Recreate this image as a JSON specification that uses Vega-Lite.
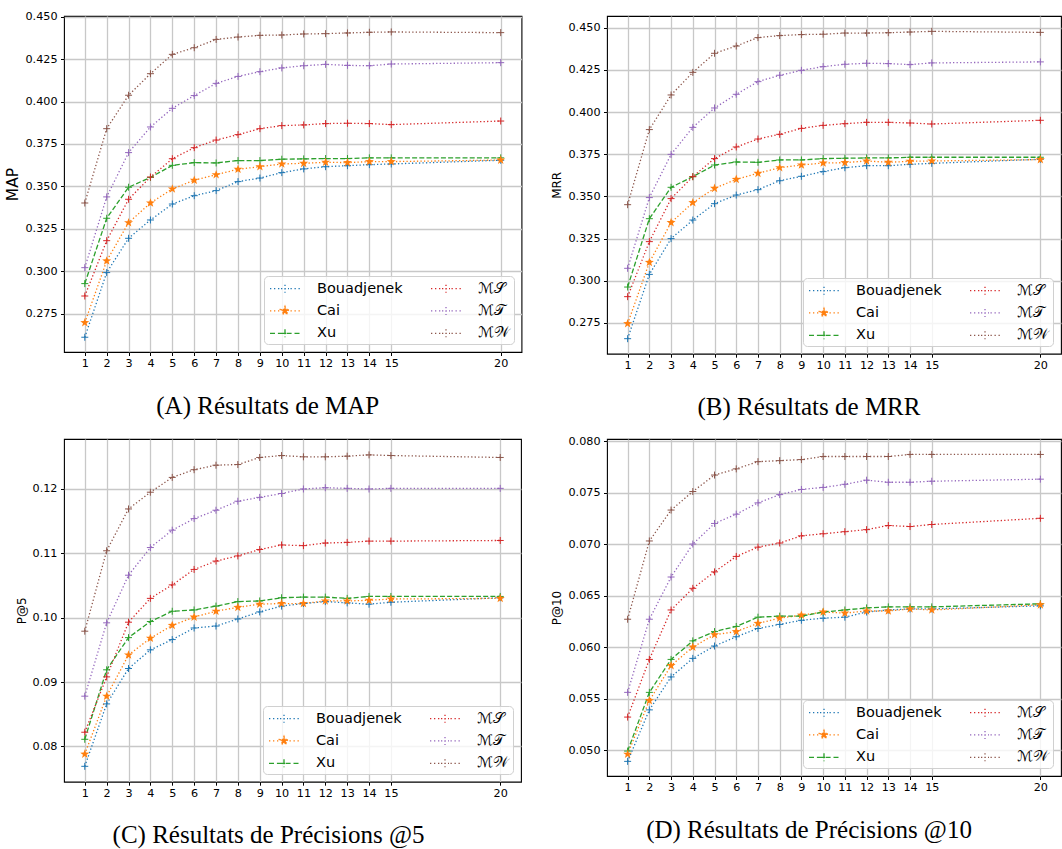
{
  "$schema": "https://vega.github.io/schema/vega-lite/v6.json",
  "padding": {"left": 5, "top": 10, "right": 0, "bottom": 0},
  "background": "#ffffff",
  "datasets": {
    "A": [
      {"x":1,"Bouadjenek":0.2611,"Cai":0.2697,"Xu":0.2927,"MS":0.2854,"MT":0.3021,"MW":0.3402},
      {"x":2,"Bouadjenek":0.2992,"Cai":0.3061,"Xu":0.3312,"MS":0.3180,"MT":0.3438,"MW":0.3840},
      {"x":3,"Bouadjenek":0.3194,"Cai":0.3286,"Xu":0.3495,"MS":0.3424,"MT":0.3699,"MW":0.4037},
      {"x":4,"Bouadjenek":0.3302,"Cai":0.3402,"Xu":0.3553,"MS":0.3555,"MT":0.3850,"MW":0.4164},
      {"x":5,"Bouadjenek":0.3396,"Cai":0.3485,"Xu":0.3624,"MS":0.3663,"MT":0.3960,"MW":0.4278},
      {"x":6,"Bouadjenek":0.3445,"Cai":0.3536,"Xu":0.3640,"MS":0.3728,"MT":0.4035,"MW":0.4317},
      {"x":7,"Bouadjenek":0.3475,"Cai":0.3569,"Xu":0.3638,"MS":0.3773,"MT":0.4107,"MW":0.4366},
      {"x":8,"Bouadjenek":0.3528,"Cai":0.3601,"Xu":0.3652,"MS":0.3805,"MT":0.4148,"MW":0.4380},
      {"x":9,"Bouadjenek":0.3549,"Cai":0.3616,"Xu":0.3652,"MS":0.3840,"MT":0.4176,"MW":0.4390},
      {"x":10,"Bouadjenek":0.3581,"Cai":0.3632,"Xu":0.3660,"MS":0.3858,"MT":0.4198,"MW":0.4392},
      {"x":11,"Bouadjenek":0.3603,"Cai":0.3636,"Xu":0.3662,"MS":0.3862,"MT":0.4211,"MW":0.4398},
      {"x":12,"Bouadjenek":0.3616,"Cai":0.3642,"Xu":0.3664,"MS":0.3870,"MT":0.4219,"MW":0.4400},
      {"x":13,"Bouadjenek":0.3622,"Cai":0.3640,"Xu":0.3664,"MS":0.3872,"MT":0.4213,"MW":0.4404},
      {"x":14,"Bouadjenek":0.3628,"Cai":0.3646,"Xu":0.3668,"MS":0.3870,"MT":0.4211,"MW":0.4408},
      {"x":15,"Bouadjenek":0.3632,"Cai":0.3646,"Xu":0.3668,"MS":0.3864,"MT":0.4221,"MW":0.4410},
      {"x":20,"Bouadjenek":0.3654,"Cai":0.3655,"Xu":0.3668,"MS":0.3885,"MT":0.4229,"MW":0.4406}
    ],
    "B": [
      {"x":1,"Bouadjenek":0.2657,"Cai":0.2746,"Xu":0.2963,"MS":0.2906,"MT":0.3074,"MW":0.3451},
      {"x":2,"Bouadjenek":0.3038,"Cai":0.3109,"Xu":0.3368,"MS":0.3232,"MT":0.3493,"MW":0.3896},
      {"x":3,"Bouadjenek":0.3250,"Cai":0.3345,"Xu":0.3554,"MS":0.3487,"MT":0.3749,"MW":0.4101},
      {"x":4,"Bouadjenek":0.3360,"Cai":0.3463,"Xu":0.3617,"MS":0.3617,"MT":0.3909,"MW":0.4235},
      {"x":5,"Bouadjenek":0.3457,"Cai":0.3548,"Xu":0.3686,"MS":0.3724,"MT":0.4024,"MW":0.4348},
      {"x":6,"Bouadjenek":0.3508,"Cai":0.3601,"Xu":0.3704,"MS":0.3793,"MT":0.4105,"MW":0.4391},
      {"x":7,"Bouadjenek":0.3540,"Cai":0.3637,"Xu":0.3702,"MS":0.3840,"MT":0.4180,"MW":0.4441},
      {"x":8,"Bouadjenek":0.3593,"Cai":0.3670,"Xu":0.3716,"MS":0.3868,"MT":0.4218,"MW":0.4453},
      {"x":9,"Bouadjenek":0.3619,"Cai":0.3686,"Xu":0.3716,"MS":0.3903,"MT":0.4247,"MW":0.4459},
      {"x":10,"Bouadjenek":0.3647,"Cai":0.3698,"Xu":0.3724,"MS":0.3921,"MT":0.4269,"MW":0.4461},
      {"x":11,"Bouadjenek":0.3670,"Cai":0.3700,"Xu":0.3726,"MS":0.3931,"MT":0.4283,"MW":0.4468},
      {"x":12,"Bouadjenek":0.3682,"Cai":0.3710,"Xu":0.3728,"MS":0.3939,"MT":0.4289,"MW":0.4468},
      {"x":13,"Bouadjenek":0.3682,"Cai":0.3702,"Xu":0.3728,"MS":0.3939,"MT":0.4287,"MW":0.4470},
      {"x":14,"Bouadjenek":0.3690,"Cai":0.3708,"Xu":0.3732,"MS":0.3935,"MT":0.4281,"MW":0.4474},
      {"x":15,"Bouadjenek":0.3696,"Cai":0.3710,"Xu":0.3732,"MS":0.3929,"MT":0.4291,"MW":0.4478},
      {"x":20,"Bouadjenek":0.3720,"Cai":0.3718,"Xu":0.3732,"MS":0.3951,"MT":0.4297,"MW":0.4472}
    ],
    "C": [
      {"x":1,"Bouadjenek":0.0769,"Cai":0.0788,"Xu":0.0811,"MS":0.0822,"MT":0.0878,"MW":0.0979},
      {"x":2,"Bouadjenek":0.0866,"Cai":0.0878,"Xu":0.0919,"MS":0.0908,"MT":0.0992,"MW":0.1104},
      {"x":3,"Bouadjenek":0.0921,"Cai":0.0942,"Xu":0.0969,"MS":0.0993,"MT":0.1066,"MW":0.1169},
      {"x":4,"Bouadjenek":0.0950,"Cai":0.0968,"Xu":0.0994,"MS":0.1030,"MT":0.1109,"MW":0.1195},
      {"x":5,"Bouadjenek":0.0966,"Cai":0.0988,"Xu":0.1010,"MS":0.1051,"MT":0.1136,"MW":0.1218},
      {"x":6,"Bouadjenek":0.0984,"Cai":0.1001,"Xu":0.1012,"MS":0.1075,"MT":0.1154,"MW":0.1230},
      {"x":7,"Bouadjenek":0.0987,"Cai":0.1010,"Xu":0.1018,"MS":0.1088,"MT":0.1167,"MW":0.1237},
      {"x":8,"Bouadjenek":0.0998,"Cai":0.1016,"Xu":0.1025,"MS":0.1096,"MT":0.1181,"MW":0.1238},
      {"x":9,"Bouadjenek":0.1009,"Cai":0.1021,"Xu":0.1026,"MS":0.1106,"MT":0.1187,"MW":0.1249},
      {"x":10,"Bouadjenek":0.1018,"Cai":0.1022,"Xu":0.1031,"MS":0.1113,"MT":0.1193,"MW":0.1252},
      {"x":11,"Bouadjenek":0.1022,"Cai":0.1022,"Xu":0.1032,"MS":0.1112,"MT":0.1200,"MW":0.1250},
      {"x":12,"Bouadjenek":0.1025,"Cai":0.1026,"Xu":0.1032,"MS":0.1116,"MT":0.1202,"MW":0.1250},
      {"x":13,"Bouadjenek":0.1023,"Cai":0.1026,"Xu":0.1030,"MS":0.1117,"MT":0.1201,"MW":0.1251},
      {"x":14,"Bouadjenek":0.1021,"Cai":0.1027,"Xu":0.1033,"MS":0.1119,"MT":0.1200,"MW":0.1253},
      {"x":15,"Bouadjenek":0.1024,"Cai":0.1029,"Xu":0.1033,"MS":0.1119,"MT":0.1201,"MW":0.1252},
      {"x":20,"Bouadjenek":0.1031,"Cai":0.1030,"Xu":0.1033,"MS":0.1120,"MT":0.1201,"MW":0.1249}
    ],
    "D": [
      {"x":1,"Bouadjenek":0.0489,"Cai":0.0496,"Xu":0.0499,"MS":0.0532,"MT":0.0556,"MW":0.0627},
      {"x":2,"Bouadjenek":0.0539,"Cai":0.0548,"Xu":0.0556,"MS":0.0588,"MT":0.0627,"MW":0.0703},
      {"x":3,"Bouadjenek":0.0571,"Cai":0.0582,"Xu":0.0588,"MS":0.0636,"MT":0.0668,"MW":0.0733},
      {"x":4,"Bouadjenek":0.0589,"Cai":0.0600,"Xu":0.0606,"MS":0.0657,"MT":0.0700,"MW":0.0751},
      {"x":5,"Bouadjenek":0.0601,"Cai":0.0612,"Xu":0.0615,"MS":0.0673,"MT":0.0720,"MW":0.0767},
      {"x":6,"Bouadjenek":0.0610,"Cai":0.0615,"Xu":0.0620,"MS":0.0688,"MT":0.0729,"MW":0.0773},
      {"x":7,"Bouadjenek":0.0618,"Cai":0.0623,"Xu":0.0629,"MS":0.0697,"MT":0.0740,"MW":0.0780},
      {"x":8,"Bouadjenek":0.0622,"Cai":0.0628,"Xu":0.0630,"MS":0.0701,"MT":0.0748,"MW":0.0781},
      {"x":9,"Bouadjenek":0.0626,"Cai":0.0631,"Xu":0.0630,"MS":0.0708,"MT":0.0753,"MW":0.0782},
      {"x":10,"Bouadjenek":0.0628,"Cai":0.0634,"Xu":0.0634,"MS":0.0710,"MT":0.0755,"MW":0.0785},
      {"x":11,"Bouadjenek":0.0629,"Cai":0.0633,"Xu":0.0636,"MS":0.0712,"MT":0.0758,"MW":0.0785},
      {"x":12,"Bouadjenek":0.0634,"Cai":0.0635,"Xu":0.0638,"MS":0.0714,"MT":0.0762,"MW":0.0785},
      {"x":13,"Bouadjenek":0.0636,"Cai":0.0635,"Xu":0.0639,"MS":0.0718,"MT":0.0760,"MW":0.0785},
      {"x":14,"Bouadjenek":0.0637,"Cai":0.0637,"Xu":0.0639,"MS":0.0717,"MT":0.0760,"MW":0.0787},
      {"x":15,"Bouadjenek":0.0637,"Cai":0.0636,"Xu":0.0639,"MS":0.0719,"MT":0.0761,"MW":0.0787},
      {"x":20,"Bouadjenek":0.0640,"Cai":0.0641,"Xu":0.0642,"MS":0.0725,"MT":0.0763,"MW":0.0787}
    ]
  },
  "columns": 2,
  "spacing": {"row": 13, "column": 27},
  "resolve": {"scale": {"color": "independent", "strokeDash": "independent"}, "legend": {"color": "independent"}},
  "concat": [
    {
      "width": 457.5, "height": 336,
      "data": {"name": "A"},
      "transform": [{"fold": ["Bouadjenek","Cai","Xu","MS","MT","MW"], "as": ["s","v"]}],
      "title": {"text": "(A) Résultats de MAP", "dx": -25},
      "encoding": {
        "x": {"field": "x", "type": "quantitative", "scale": {"domain": [0.05, 20.95], "nice": false, "zero": false}, "axis": {"values": [1,2,3,4,5,6,7,8,9,10,11,12,13,14,15,20], "title": null}},
        "y": {"field": "v", "type": "quantitative", "scale": {"domain": [0.2524, 0.4504], "nice": false, "zero": false}, "axis": {"values": [0.275,0.3,0.325,0.35,0.375,0.4,0.425,0.45], "format": ".3f", "title": "MAP", "titleFontSize": 15.5}},
        "color": {"field": "s", "type": "nominal", "scale": {"domain": ["Bouadjenek","Cai","Xu","MS","MT","MW"], "range": ["#1f77b4","#ff7f0e","#2ca02c","#d62728","#9467bd","#8c564b"]},
          "legend": {"labelExpr": "datum.value === 'MS' ? 'ℳ𝒮' : datum.value === 'MT' ? 'ℳ𝒯' : datum.value === 'MW' ? 'ℳ𝒲' : datum.value",
            "encode": {"symbols": {"update": {
              "shape": {"signal": "datum.value === 'Xu' ? 'M-1.875,0H-1.1875M-0.8875,0H-0.2M0.2,0H0.8875M1.1875,0H1.875M-0.5,0H0.5M0,-0.5V0.5' : datum.value === 'Cai' ? 'M-1.875,0H-1.6875M-1.375,0H-1.1875M-0.875,0H-0.6875M0.6875,0H0.875M1.1875,0H1.375M1.6875,0H1.875M0,-0.5625L0.132,-0.182L0.535,-0.174L0.214,0.07L0.331,0.455L0,0.225L-0.331,0.455L-0.214,0.07L-0.535,-0.174L-0.132,-0.182Z' : 'M-1.875,0H-1.6875M-1.375,0H-1.1875M-0.875,0H-0.6875M0.6875,0H0.875M1.1875,0H1.375M1.6875,0H1.875M-0.5,0H0.5M0,-0.5V0.5'"},
              "stroke": {"signal": "datum.value === 'Bouadjenek' ? '#1f77b4' : datum.value === 'Cai' ? '#ff7f0e' : datum.value === 'Xu' ? '#2ca02c' : datum.value === 'MS' ? '#d62728' : datum.value === 'MT' ? '#9467bd' : '#8c564b'"},
              "fill": {"signal": "datum.value === 'Cai' ? '#ff7f0e' : 'transparent'"},
              "strokeWidth": {"value": 1.3},
              "opacity": {"value": 1}
            }}}}}
      },
      "layer": [
        {"mark": {"type": "line", "strokeWidth": 1.3},
         "encoding": {"strokeDash": {"field": "s", "type": "nominal", "scale": {"domain": ["Bouadjenek","Cai","Xu","MS","MT","MW"], "range": [[1.3,2.2],[1.3,2.2],[5,2.2],[1.3,2.2],[1.3,2.2],[1.3,2.2]]}, "legend": null}}},
        {"transform": [{"filter": "datum.s !== 'Cai'"}],
         "mark": {"type": "point", "shape": "M-1,0H1M0,-1V1", "size": 49, "strokeWidth": 1, "filled": false, "opacity": 1}},
        {"transform": [{"filter": "datum.s === 'Cai'"}],
         "mark": {"type": "point", "shape": "M0,-1L0.235,-0.324L0.951,-0.309L0.38,0.124L0.588,0.809L0,0.4L-0.588,0.809L-0.38,0.124L-0.951,-0.309L-0.235,-0.324Z", "size": 90, "filled": true, "opacity": 1}}
      ]
    },
    {
      "width": 454, "height": 337.7,
      "data": {"name": "B"},
      "transform": [{"fold": ["Bouadjenek","Cai","Xu","MS","MT","MW"], "as": ["s","v"]}],
      "title": {"text": "(B) Résultats de MRR", "dx": -25},
      "encoding": {
        "x": {"field": "x", "type": "quantitative", "scale": {"domain": [0.05, 20.95], "nice": false, "zero": false}, "axis": {"values": [1,2,3,4,5,6,7,8,9,10,11,12,13,14,15,20], "title": null}},
        "y": {"field": "v", "type": "quantitative", "scale": {"domain": [0.2568, 0.4569], "nice": false, "zero": false}, "axis": {"values": [0.275,0.3,0.325,0.35,0.375,0.4,0.425,0.45], "format": ".3f", "title": "MRR"}},
        "color": {"field": "s", "type": "nominal", "scale": {"domain": ["Bouadjenek","Cai","Xu","MS","MT","MW"], "range": ["#1f77b4","#ff7f0e","#2ca02c","#d62728","#9467bd","#8c564b"]},
          "legend": {"labelExpr": "datum.value === 'MS' ? 'ℳ𝒮' : datum.value === 'MT' ? 'ℳ𝒯' : datum.value === 'MW' ? 'ℳ𝒲' : datum.value",
            "encode": {"symbols": {"update": {
              "shape": {"signal": "datum.value === 'Xu' ? 'M-1.875,0H-1.1875M-0.8875,0H-0.2M0.2,0H0.8875M1.1875,0H1.875M-0.5,0H0.5M0,-0.5V0.5' : datum.value === 'Cai' ? 'M-1.875,0H-1.6875M-1.375,0H-1.1875M-0.875,0H-0.6875M0.6875,0H0.875M1.1875,0H1.375M1.6875,0H1.875M0,-0.5625L0.132,-0.182L0.535,-0.174L0.214,0.07L0.331,0.455L0,0.225L-0.331,0.455L-0.214,0.07L-0.535,-0.174L-0.132,-0.182Z' : 'M-1.875,0H-1.6875M-1.375,0H-1.1875M-0.875,0H-0.6875M0.6875,0H0.875M1.1875,0H1.375M1.6875,0H1.875M-0.5,0H0.5M0,-0.5V0.5'"},
              "stroke": {"signal": "datum.value === 'Bouadjenek' ? '#1f77b4' : datum.value === 'Cai' ? '#ff7f0e' : datum.value === 'Xu' ? '#2ca02c' : datum.value === 'MS' ? '#d62728' : datum.value === 'MT' ? '#9467bd' : '#8c564b'"},
              "fill": {"signal": "datum.value === 'Cai' ? '#ff7f0e' : 'transparent'"},
              "strokeWidth": {"value": 1.3},
              "opacity": {"value": 1}
            }}}}}
      },
      "layer": [
        {"mark": {"type": "line", "strokeWidth": 1.3},
         "encoding": {"strokeDash": {"field": "s", "type": "nominal", "scale": {"domain": ["Bouadjenek","Cai","Xu","MS","MT","MW"], "range": [[1.3,2.2],[1.3,2.2],[5,2.2],[1.3,2.2],[1.3,2.2],[1.3,2.2]]}, "legend": null}}},
        {"transform": [{"filter": "datum.s !== 'Cai'"}],
         "mark": {"type": "point", "shape": "M-1,0H1M0,-1V1", "size": 49, "strokeWidth": 1, "filled": false, "opacity": 1}},
        {"transform": [{"filter": "datum.s === 'Cai'"}],
         "mark": {"type": "point", "shape": "M0,-1L0.235,-0.324L0.951,-0.309L0.38,0.124L0.588,0.809L0,0.4L-0.588,0.809L-0.38,0.124L-0.951,-0.309L-0.235,-0.324Z", "size": 90, "filled": true, "opacity": 1}}
      ]
    },
    {
      "width": 457, "height": 342.7,
      "data": {"name": "C"},
      "transform": [{"fold": ["Bouadjenek","Cai","Xu","MS","MT","MW"], "as": ["s","v"]}],
      "title": {"text": "(C) Résultats de Précisions @5", "dx": -24},
      "encoding": {
        "x": {"field": "x", "type": "quantitative", "scale": {"domain": [0.05, 20.95], "nice": false, "zero": false}, "axis": {"values": [1,2,3,4,5,6,7,8,9,10,11,12,13,14,15,20], "title": null}},
        "y": {"field": "v", "type": "quantitative", "scale": {"domain": [0.07451, 0.12777], "nice": false, "zero": false}, "axis": {"values": [0.08,0.09,0.1,0.11,0.12], "format": ".2f", "title": "P@5"}},
        "color": {"field": "s", "type": "nominal", "scale": {"domain": ["Bouadjenek","Cai","Xu","MS","MT","MW"], "range": ["#1f77b4","#ff7f0e","#2ca02c","#d62728","#9467bd","#8c564b"]},
          "legend": {"labelExpr": "datum.value === 'MS' ? 'ℳ𝒮' : datum.value === 'MT' ? 'ℳ𝒯' : datum.value === 'MW' ? 'ℳ𝒲' : datum.value",
            "encode": {"symbols": {"update": {
              "shape": {"signal": "datum.value === 'Xu' ? 'M-1.875,0H-1.1875M-0.8875,0H-0.2M0.2,0H0.8875M1.1875,0H1.875M-0.5,0H0.5M0,-0.5V0.5' : datum.value === 'Cai' ? 'M-1.875,0H-1.6875M-1.375,0H-1.1875M-0.875,0H-0.6875M0.6875,0H0.875M1.1875,0H1.375M1.6875,0H1.875M0,-0.5625L0.132,-0.182L0.535,-0.174L0.214,0.07L0.331,0.455L0,0.225L-0.331,0.455L-0.214,0.07L-0.535,-0.174L-0.132,-0.182Z' : 'M-1.875,0H-1.6875M-1.375,0H-1.1875M-0.875,0H-0.6875M0.6875,0H0.875M1.1875,0H1.375M1.6875,0H1.875M-0.5,0H0.5M0,-0.5V0.5'"},
              "stroke": {"signal": "datum.value === 'Bouadjenek' ? '#1f77b4' : datum.value === 'Cai' ? '#ff7f0e' : datum.value === 'Xu' ? '#2ca02c' : datum.value === 'MS' ? '#d62728' : datum.value === 'MT' ? '#9467bd' : '#8c564b'"},
              "fill": {"signal": "datum.value === 'Cai' ? '#ff7f0e' : 'transparent'"},
              "strokeWidth": {"value": 1.3},
              "opacity": {"value": 1}
            }}}}}
      },
      "layer": [
        {"mark": {"type": "line", "strokeWidth": 1.3},
         "encoding": {"strokeDash": {"field": "s", "type": "nominal", "scale": {"domain": ["Bouadjenek","Cai","Xu","MS","MT","MW"], "range": [[1.3,2.2],[1.3,2.2],[5,2.2],[1.3,2.2],[1.3,2.2],[1.3,2.2]]}, "legend": null}}},
        {"transform": [{"filter": "datum.s !== 'Cai'"}],
         "mark": {"type": "point", "shape": "M-1,0H1M0,-1V1", "size": 49, "strokeWidth": 1, "filled": false, "opacity": 1}},
        {"transform": [{"filter": "datum.s === 'Cai'"}],
         "mark": {"type": "point", "shape": "M0,-1L0.235,-0.324L0.951,-0.309L0.38,0.124L0.588,0.809L0,0.4L-0.588,0.809L-0.38,0.124L-0.951,-0.309L-0.235,-0.324Z", "size": 90, "filled": true, "opacity": 1}}
      ]
    },
    {
      "width": 454, "height": 337,
      "data": {"name": "D"},
      "transform": [{"fold": ["Bouadjenek","Cai","Xu","MS","MT","MW"], "as": ["s","v"]}],
      "title": {"text": "(D) Résultats de Précisions @10", "dx": -25},
      "encoding": {
        "x": {"field": "x", "type": "quantitative", "scale": {"domain": [0.05, 20.95], "nice": false, "zero": false}, "axis": {"values": [1,2,3,4,5,6,7,8,9,10,11,12,13,14,15,20], "title": null}},
        "y": {"field": "v", "type": "quantitative", "scale": {"domain": [0.04748, 0.0802], "nice": false, "zero": false}, "axis": {"values": [0.05,0.055,0.06,0.065,0.07,0.075,0.08], "format": ".3f", "title": "P@10"}},
        "color": {"field": "s", "type": "nominal", "scale": {"domain": ["Bouadjenek","Cai","Xu","MS","MT","MW"], "range": ["#1f77b4","#ff7f0e","#2ca02c","#d62728","#9467bd","#8c564b"]},
          "legend": {"labelExpr": "datum.value === 'MS' ? 'ℳ𝒮' : datum.value === 'MT' ? 'ℳ𝒯' : datum.value === 'MW' ? 'ℳ𝒲' : datum.value",
            "encode": {"symbols": {"update": {
              "shape": {"signal": "datum.value === 'Xu' ? 'M-1.875,0H-1.1875M-0.8875,0H-0.2M0.2,0H0.8875M1.1875,0H1.875M-0.5,0H0.5M0,-0.5V0.5' : datum.value === 'Cai' ? 'M-1.875,0H-1.6875M-1.375,0H-1.1875M-0.875,0H-0.6875M0.6875,0H0.875M1.1875,0H1.375M1.6875,0H1.875M0,-0.5625L0.132,-0.182L0.535,-0.174L0.214,0.07L0.331,0.455L0,0.225L-0.331,0.455L-0.214,0.07L-0.535,-0.174L-0.132,-0.182Z' : 'M-1.875,0H-1.6875M-1.375,0H-1.1875M-0.875,0H-0.6875M0.6875,0H0.875M1.1875,0H1.375M1.6875,0H1.875M-0.5,0H0.5M0,-0.5V0.5'"},
              "stroke": {"signal": "datum.value === 'Bouadjenek' ? '#1f77b4' : datum.value === 'Cai' ? '#ff7f0e' : datum.value === 'Xu' ? '#2ca02c' : datum.value === 'MS' ? '#d62728' : datum.value === 'MT' ? '#9467bd' : '#8c564b'"},
              "fill": {"signal": "datum.value === 'Cai' ? '#ff7f0e' : 'transparent'"},
              "strokeWidth": {"value": 1.3},
              "opacity": {"value": 1}
            }}}}}
      },
      "layer": [
        {"mark": {"type": "line", "strokeWidth": 1.3},
         "encoding": {"strokeDash": {"field": "s", "type": "nominal", "scale": {"domain": ["Bouadjenek","Cai","Xu","MS","MT","MW"], "range": [[1.3,2.2],[1.3,2.2],[5,2.2],[1.3,2.2],[1.3,2.2],[1.3,2.2]]}, "legend": null}}},
        {"transform": [{"filter": "datum.s !== 'Cai'"}],
         "mark": {"type": "point", "shape": "M-1,0H1M0,-1V1", "size": 49, "strokeWidth": 1, "filled": false, "opacity": 1}},
        {"transform": [{"filter": "datum.s === 'Cai'"}],
         "mark": {"type": "point", "shape": "M0,-1L0.235,-0.324L0.951,-0.309L0.38,0.124L0.588,0.809L0,0.4L-0.588,0.809L-0.38,0.124L-0.951,-0.309L-0.235,-0.324Z", "size": 90, "filled": true, "opacity": 1}}
      ]
    }
  ],
  "config": {
    "view": {"stroke": "#000000", "strokeWidth": 1.1},
    "axis": {"domain": false, "grid": true, "gridColor": "#c8c8c8", "gridWidth": 1.3, "tickColor": "#000000", "tickSize": 3.5, "tickWidth": 1, "labelFont": "DejaVu Sans", "labelFontSize": 11.2, "labelColor": "#000000", "titleFont": "DejaVu Sans", "titleFontWeight": "normal", "titleColor": "#000000", "titleFontSize": 12},
    "axisX": {"labelPadding": 2, "labelAngle": 0},
    "axisY": {"labelPadding": 3.5, "titlePadding": 4},
    "legend": {"orient": "bottom-right", "offset": 8, "columns": 2, "padding": 3.5, "title": null, "labelFont": "DejaVu Sans", "labelFontSize": 14.5, "labelColor": "#000000", "labelLimit": 300, "symbolSize": 256, "symbolStrokeWidth": 1.3, "symbolOffset": 8.5, "labelOffset": 23, "columnPadding": 24, "rowPadding": 6.4, "fillColor": "rgba(255,255,255,0.8)", "strokeColor": "#d0d0d0", "cornerRadius": 4},
    "title": {"orient": "bottom", "anchor": "middle", "frame": "group", "font": "Liberation Serif", "fontSize": 25, "fontWeight": "normal", "color": "#000000", "offset": 25}
  }
}
